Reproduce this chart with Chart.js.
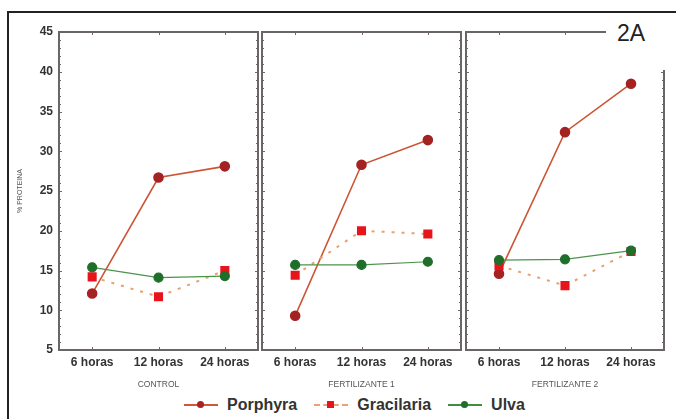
<!DOCTYPE html>
<html>
<head>
<meta charset="utf-8">
<script src="https://cdn.jsdelivr.net/npm/chart.js@4"></script>
<style>
  html, body { margin: 0; padding: 0; background: #fff; }
  body { width: 676px; height: 419px; position: relative; overflow: hidden; font-family: "Liberation Sans", Arial, sans-serif; }
  .frame { position: absolute; left: 7px; top: 11px; width: 680px; height: 420px; border-top: 2px solid #222; border-left: 2px solid #222; box-sizing: border-box; }
  canvas { position: absolute; top: 0; }
  #corner { position: absolute; left: 606px; top: 14px; width: 70px; height: 56px; background: #fff; }
  #tag { position: absolute; left: 617px; top: 20px; font-size: 23px; color: #222; }
  #legend { position: absolute; left: 184px; top: 396px; display: flex; align-items: center; font-weight: bold; font-size: 16px; color: #333; }
  .item { display: flex; align-items: center; margin-right: 17px; }
  .sym { position: relative; width: 34px; height: 12px; margin-right: 9px; }
  .sym .ln { position: absolute; left: 0; right: 0; top: 5px; height: 0; }
  .sym .mk { position: absolute; left: 13px; top: 2px; width: 7px; height: 7px; }
</style>
</head>
<body>
<div class="frame"></div>
<canvas id="c1" width="268" height="392" style="left:0px"></canvas>
<canvas id="c2" width="219" height="392" style="left:252px"></canvas>
<canvas id="c3" width="220" height="392" style="left:456px"></canvas>
<div id="corner"></div>
<div id="tag">2A</div>
<div id="legend">
  <div class="item"><div class="sym"><div class="ln" style="border-top:2px solid #d0583a"></div><div class="mk" style="background:#a82222;border-radius:50%"></div></div>Porphyra</div>
  <div class="item"><div class="sym"><div class="ln" style="border-top:2px dashed #eca07a"></div><div class="mk" style="background:#e8141c"></div></div>Gracilaria</div>
  <div class="item"><div class="sym"><div class="ln" style="border-top:2px solid #3f8f3f"></div><div class="mk" style="background:#1f6e2a;border-radius:50%"></div></div>Ulva</div>
</div>
<script>
const categories = ["6 horas", "12 horas", "24 horas"];
const panelTitles = ["CONTROL", "FERTILIZANTE 1", "FERTILIZANTE 2"];
const yTicks = [5, 10, 15, 20, 25, 30, 35, 40, 45];

// % proteina per panel, values at 6, 12, 24 horas
const porphyraControl = [12.1, 26.7, 28.1];
const gracilariaControl = [14.2, 11.7, 15.0];
const ulvaControl = [15.4, 14.1, 14.3];

const porphyraFert1 = [9.3, 28.3, 31.4];
const gracilariaFert1 = [14.4, 20.0, 19.6];
const ulvaFert1 = [15.7, 15.7, 16.1];

const porphyraFert2 = [14.6, 32.4, 38.5];
const gracilariaFert2 = [15.6, 13.1, 17.4];
const ulvaFert2 = [16.3, 16.4, 17.5];

const tickFont = { family: "Liberation Sans", size: 12, weight: "bold" };

// panel frame with inward ticks
const framePlugin = {
  id: "frame",
  beforeDatasetsDraw(chart) {
    const { ctx, chartArea: a, scales } = chart;
    ctx.save();
    ctx.strokeStyle = "#6e6a6a";
    ctx.lineWidth = 1;
    for (let v = 5; v <= 45; v++) {
      const y = Math.round(scales.y.getPixelForValue(v)) + 0.5;
      const len = v % 5 === 0 ? 3 : 2;
      ctx.beginPath();
      ctx.moveTo(a.left, y); ctx.lineTo(a.left + len, y);
      ctx.moveTo(a.right, y); ctx.lineTo(a.right - len, y);
      ctx.stroke();
    }
    categories.forEach((c, i) => {
      const x = Math.round(scales.x.getPixelForValue(i)) + 0.5;
      ctx.beginPath();
      ctx.moveTo(x, a.bottom); ctx.lineTo(x, a.bottom - 3);
      ctx.moveTo(x, a.top); ctx.lineTo(x, a.top + 3);
      ctx.stroke();
    });
    ctx.lineWidth = 2;
    ctx.strokeStyle = "#6a6666";
    ctx.strokeRect(a.left, a.top, a.right - a.left, a.bottom - a.top);
    ctx.restore();
  }
};

function makePanel(id, title, porphyra, gracilaria, ulva, showY, padL, padR) {
  new Chart(document.getElementById(id), {
    type: "line",
    data: {
      labels: categories,
      datasets: [
        {
          label: "Ulva",
          data: ulva,
          borderColor: "#4a954a",
          borderWidth: 1.2,
          pointStyle: "circle",
          pointRadius: 4.5,
          pointBackgroundColor: "#1f6e2a",
          pointBorderColor: "#1f6e2a",
        },
        {
          label: "Gracilaria",
          data: gracilaria,
          borderColor: "#e8a070",
          borderWidth: 2,
          borderDash: [3, 7],
          pointStyle: "rect",
          pointRadius: 5,
          pointBackgroundColor: "#e8141c",
          pointBorderColor: "#e8141c",
        },
        {
          label: "Porphyra",
          data: porphyra,
          borderColor: "#cc5535",
          borderWidth: 1.6,
          pointStyle: "circle",
          pointRadius: 4.5,
          pointBackgroundColor: "#a52222",
          pointBorderColor: "#a52222",
        },
      ],
    },
    options: {
      responsive: false,
      animation: false,
      layout: { padding: { left: padL, right: padR, top: 32, bottom: 2 } },
      plugins: { legend: { display: false }, tooltip: { enabled: false } },
      scales: {
        x: {
          offset: true,
          grid: { display: false, drawTicks: false },
          border: { display: false },
          ticks: { font: tickFont, color: "#333", padding: 5, maxRotation: 0, autoSkip: false },
          title: {
            display: true,
            text: title,
            font: { family: "Liberation Sans", size: 8.5 },
            color: "#555",
            padding: { top: 6, bottom: 0 },
          },
          afterFit(s) { s.height = 40; },
        },
        y: {
          display: showY,
          min: 5,
          max: 45,
          afterBuildTicks(s) { s.ticks = yTicks.map((v) => ({ value: v })); },
          grid: { display: false, drawTicks: false },
          border: { display: false },
          ticks: { font: tickFont, color: "#333", padding: 6 },
          title: {
            display: true,
            text: "% PROTEINA",
            font: { family: "Liberation Sans", size: 7 },
            color: "#555",
            padding: { top: 16, bottom: 0 },
          },
          afterFit(s) { s.width = showY ? 59 : 0; },
        },
      },
    },
    plugins: [framePlugin],
  });
}

makePanel("c1", panelTitles[0], porphyraControl, gracilariaControl, ulvaControl, true, 0, 10);
makePanel("c2", panelTitles[1], porphyraFert1, gracilariaFert1, ulvaFert1, false, 10, 10);
makePanel("c3", panelTitles[2], porphyraFert2, gracilariaFert2, ulvaFert2, false, 10, 12);
</script>
</body>
</html>
